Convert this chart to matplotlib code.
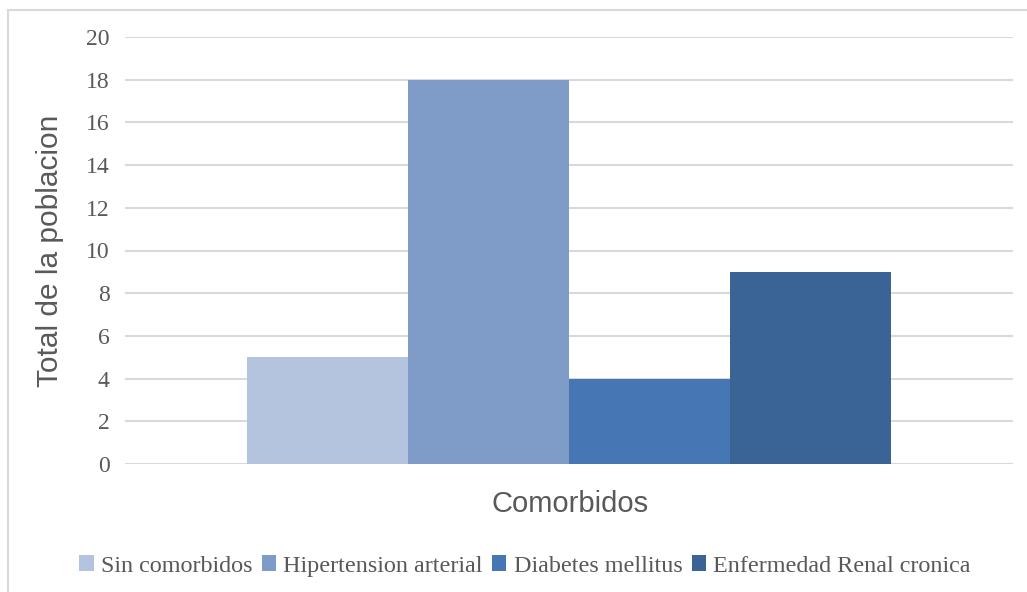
import numpy as np
import matplotlib
matplotlib.use("Agg")
import matplotlib.pyplot as plt
from matplotlib.patches import Rectangle

series = ["Sin comorbidos", "Hipertension arterial", "Diabetes mellitus",
          "Enfermedad Renal cronica"]
values = [5, 18, 4, 9]
colors = ["#b4c4df", "#7f9bc7", "#4776b4", "#3a6496"]
yticks = [0, 2, 4, 6, 8, 10, 12, 14, 16, 18, 20]

text_col = "#595959"
grid_col = "#d9d9d9"

fig = plt.figure(figsize=(10.27, 5.92), dpi=100)
ax = fig.add_axes([125 / 1027, 128 / 592, 888 / 1027, 427 / 592])

# one category, four series side by side (gap width ~38%)
group = 1 / 1.377
w = group / len(series)
offsets = (np.arange(len(series)) - (len(series) - 1) / 2) * w
for i, (name, v) in enumerate(zip(series, values)):
    ax.bar(offsets[i], v, width=w, color=colors[i], label=name, zorder=2)

ax.set_xlim(-0.5, 0.5)
ax.set_ylim(0, 20)
ax.set_yticks(yticks)
ax.set_xticks([])
ax.yaxis.grid(True, color=grid_col, linewidth=1.5, zorder=0)
ax.set_axisbelow(True)
for s in ax.spines.values():
    s.set_visible(False)
ax.tick_params(axis="y", length=0, pad=11, labelcolor=text_col)
for lbl in ax.get_yticklabels():
    lbl.set_fontfamily("Liberation Serif")
    lbl.set_fontsize(17)

ax.set_ylabel("Total de la poblacion", fontsize=21.5, color=text_col,
              family="Liberation Sans", labelpad=16)
fig.text(570 / 1027, 1 - 504 / 592, "Comorbidos", fontsize=21,
         color=text_col, family="Liberation Sans", ha="center", va="center")

leg = fig.legend(loc="center", bbox_to_anchor=(525 / 1027, 1 - 566 / 592),
                 ncol=4, frameon=False, handlelength=0.6, handleheight=0.6,
                 handletextpad=0.3, columnspacing=0.38,
                 prop={"family": "Liberation Serif", "size": 17.4})
for t in leg.get_texts():
    t.set_color(text_col)

# light chart frame
fig.patches.append(Rectangle((8 / 1027, -0.05), 1.1, 1 - 10 / 592 + 0.05,
                             transform=fig.transFigure, fill=False,
                             edgecolor=grid_col, linewidth=1.5))

fig.savefig("out.png", dpi=100)
